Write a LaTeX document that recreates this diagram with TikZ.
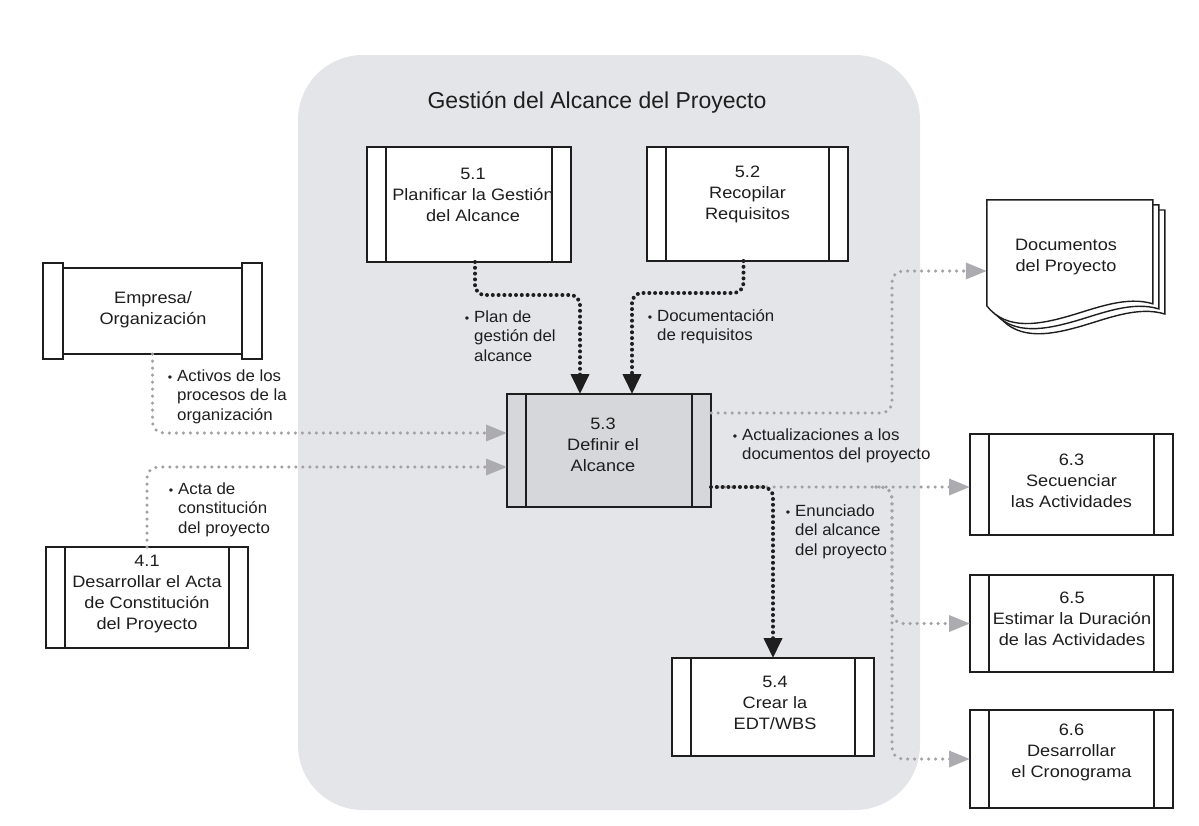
\documentclass[tikz,border=0pt]{standalone}
\usepackage{fontspec}
\setmainfont{Liberation Sans}
\newfontfamily\boxfont{Liberation Sans}[FakeStretch=1.1]
\newfontfamily\labfont{Liberation Sans}[FakeStretch=1.04]
\usetikzlibrary{arrows.meta,calc}

\definecolor{panel}{RGB}{228,229,232}
\definecolor{busy}{RGB}{214,215,218}
\definecolor{ink}{RGB}{30,30,30}
\definecolor{dotgray}{RGB}{162,162,166}
\definecolor{tipgray}{RGB}{172,172,176}

\newcommand{\bul}{\llap{{\fontsize{12}{12}\selectfont\textbullet}\hspace{5pt}}}

\tikzset{
  boxline/.style={draw=ink, line width=1.6pt},
  proc/.style={boxline, fill=white, rectangle, inner sep=0pt, outer sep=0pt,
    minimum width=203pt,
    path picture={
      \draw[boxline]
        ([xshift=19pt]path picture bounding box.north west) -- ([xshift=19pt]path picture bounding box.south west)
        ([xshift=-19pt]path picture bounding box.north east) -- ([xshift=-19pt]path picture bounding box.south east);
    }},
  ptext/.style={align=center, inner sep=0pt, text=ink,
    font=\boxfont\fontsize{16.5}{21}\selectfont},
  lab/.style={anchor=base west, inner sep=0pt, text=ink,
    font=\labfont\fontsize{16.2}{19.5}\selectfont},
  bdots/.style={draw=ink, line width=4pt, line cap=round,
    dash pattern=on 0pt off 5.8pt, rounded corners=10pt,
    -{Triangle[length=20pt,width=18pt]}},
  gdots/.style={draw=dotgray, line width=3.5pt, line cap=round,
    dash pattern=on 0pt off 7pt, rounded corners=11pt,
    -{Triangle[length=21pt,width=16pt,color=tipgray]}},
  docpage/.style={boxline, line width=1.4pt, fill=white}
}

\begin{document}
\begin{tikzpicture}[x=1pt, y=-1pt]
\useasboundingbox (0,0) rectangle (1199,825);

% panel of the knowledge area
\fill[panel, rounded corners=65pt] (298,55) rectangle (920,810);
\node[inner sep=0pt, text=ink, font=\fontsize{23}{28}\selectfont] (title) at (597,102)
  {Gestión del Alcance del Proyecto};

% processes
\node[proc, minimum width=204pt, minimum height=115pt] (p51) at (469,204.5) {};
\node[ptext] (p51t) at (473,195) {5.1\\Planificar la Gestión\\del Alcance};

\node[proc, minimum width=201pt, minimum height=114pt] (p52) at (747.5,204) {};
\node[ptext] (p52t) at (747.5,194) {5.2\\Recopilar\\Requisitos};

\node[proc, fill=busy, line width=2pt, minimum width=204pt, minimum height=113pt] (p53) at (609,450.5) {};
\node[ptext] (p53t) at (603,445) {5.3\\Definir el\\Alcance};

\node[proc, minimum width=202pt, minimum height=98pt] (p54) at (773,707) {};
\node[ptext] (p54t) at (775,702.5) {5.4\\Crear la\\EDT/WBS};

\node[proc, minimum width=202pt, minimum height=101pt] (p41) at (147,597.5) {};
\node[ptext] (p41t) at (147,594) {4.1\\Desarrollar el Acta\\de Constitución\\del Proyecto};

\node[proc, minimum height=101pt] (p63) at (1071.5,484.5) {};
\node[ptext] (p63t) at (1071.5,481) {6.3\\Secuenciar\\las Actividades};

\node[proc, minimum height=97pt] (p65) at (1071.5,623.5) {};
\node[ptext] (p65t) at (1072,619) {6.5\\Estimar la Duración\\de las Actividades};

\node[proc, minimum height=98pt] (p66) at (1071.5,759) {};
\node[ptext] (p66t) at (1071.5,752) {6.6\\Desarrollar\\el Cronograma};

% enterprise box with raised side bars
\node[boxline, fill=white, rectangle, inner sep=0pt, outer sep=0pt,
  minimum width=219pt, minimum height=86pt] (emp) at (152.5,311) {};
\draw[boxline, fill=white] ($(emp.north west)+(0,-5)$) rectangle ($(emp.south west)+(20,5)$);
\draw[boxline, fill=white] ($(emp.north east)+(-20,-5)$) rectangle ($(emp.south east)+(0,5)$);
\node[ptext] (empt) at (153,310) {Empresa/\\Organización};

% stacked project documents
\node[inner sep=0pt, minimum width=166pt, minimum height=106pt] (docs) at (1070,253) {};
\foreach \d in {12,6,0} {
  \begin{scope}[shift={($(docs.north west)+(\d,0.85*\d)$)}]
    \draw[docpage] (0,0) -- (166,0) -- (166,104)
      .. controls (140,96) and (110,108) .. (83,116)
      .. controls (55,124) and (20,132) .. (0,106) -- cycle;
  \end{scope}
}
\node[ptext] (docst) at (1066,257) {Documentos\\del Proyecto};

% anchor points on the connectors
\coordinate (a1) at ([xshift=6pt]p51.south);
\coordinate (a2) at ([xshift=-29pt]p53.north);
\coordinate (b1) at ([xshift=-4pt]p52.south);
\coordinate (b2) at ([xshift=23pt]p53.north);
\coordinate (c2) at ([yshift=17.5pt]p53.west);
\coordinate (d2) at ([yshift=-16.5pt]p53.west);
\coordinate (e1) at ([yshift=37.5pt]p53.east);
\coordinate (e2) at ([yshift=-18pt]docs.west);
\coordinate (f1) at ([yshift=-36.5pt]p53.east);
\coordinate (g1) at ($(f1)+(165,0)$);

% grey inputs and outputs
\draw[gdots] (emp.south) |- (c2);
\draw[gdots] (p41.north) |- (d2);
\draw[gdots] (e1) -- ++(181,0) |- (e2);
\draw[gdots] (f1) -- (f1 -| p63.west);
\draw[gdots] (g1) -- ++(16,0) |- (p65.west);
\draw[gdots] (g1) -- ++(16,0) |- (p66.west);

% black flows inside the area
\draw[bdots] (a1) -- ++(0,33) -| (a2);
\draw[bdots] (b1) -- ++(0,32) -| (b2);
\draw[bdots] (f1) -| (p54.north);

% flow labels
\node[lab] (l1) at (474,322) {\begin{tabular}[t]{@{}l@{}}\bul Plan de\\gestión del\\alcance\end{tabular}};
\node[lab] (l2) at (657,321) {\begin{tabular}[t]{@{}l@{}}\bul Documentación\\de requisitos\end{tabular}};
\node[lab] (l3) at (177,381) {\begin{tabular}[t]{@{}l@{}}\bul Activos de los\\procesos de la\\organización\end{tabular}};
\node[lab] (l4) at (178,494) {\begin{tabular}[t]{@{}l@{}}\bul Acta de\\constitución\\del proyecto\end{tabular}};
\node[lab] (l5) at (742,440) {\begin{tabular}[t]{@{}l@{}}\bul Actualizaciones a los\\documentos del proyecto\end{tabular}};
\node[lab] (l6) at (795,516) {\begin{tabular}[t]{@{}l@{}}\bul Enunciado\\del alcance\\del proyecto\end{tabular}};
\end{tikzpicture}
\end{document}
